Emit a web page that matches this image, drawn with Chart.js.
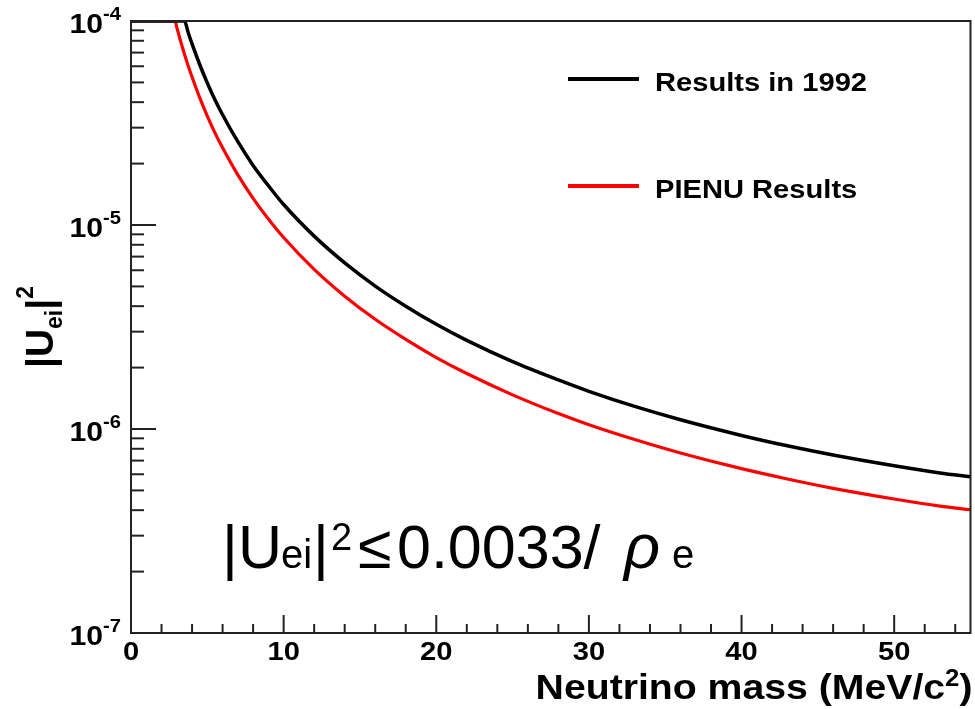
<!DOCTYPE html>
<html>
<head>
<meta charset="utf-8">
<script src="https://cdn.jsdelivr.net/npm/chart.js@4.4.1/dist/chart.umd.min.js"></script>
<style>
  html, body { margin: 0; padding: 0; background: #ffffff; }
  canvas { display: block; }
</style>
</head>
<body>
<canvas id="c" width="975" height="709"></canvas>
<script>
// ---- data ----
const masses = [0, 1, 2, 2.89, 3, 3.2, 3.5, 3.75, 4, 4.5, 5, 5.5, 6, 7, 8, 9, 10, 12, 14, 16, 18, 20, 22, 25, 28, 30, 33, 36, 40, 43, 46, 50, 53, 55];
const results1992 = [1e-4, 1e-4, 1e-4, 1e-4, 1e-4, 1e-4, 1e-4, 8.76e-5, 7.72e-5, 6.12e-5, 4.97e-5, 4.11e-5, 3.47e-5, 2.56e-5, 1.96e-5, 1.56e-5, 1.26e-5, 8.82e-6, 6.52e-6, 5.02e-6, 4.00e-6, 3.26e-6, 2.72e-6, 2.14e-6, 1.74e-6, 1.53e-6, 1.29e-6, 1.11e-6, 9.30e-7, 8.27e-7, 7.45e-7, 6.60e-7, 6.09e-7, 5.83e-7];
const pienuResults = [1e-4, 1e-4, 1e-4, 1e-4, 9.31e-5, 8.21e-5, 6.89e-5, 6.02e-5, 5.31e-5, 4.21e-5, 3.42e-5, 2.83e-5, 2.39e-5, 1.76e-5, 1.35e-5, 1.07e-5, 8.68e-6, 6.06e-6, 4.48e-6, 3.45e-6, 2.75e-6, 2.24e-6, 1.87e-6, 1.47e-6, 1.19e-6, 1.05e-6, 8.88e-7, 7.63e-7, 6.39e-7, 5.69e-7, 5.12e-7, 4.54e-7, 4.19e-7, 4.02e-7];
const seriesNames = ['Results in 1992', 'PIENU Results'];
const seriesColors = ['#000000', '#ff0000'];
const xTickLabels = [0, 10, 20, 30, 40, 50];
const yDecades = [1e-7, 1e-6, 1e-5, 1e-4];
const yDecadeExponents = ['-7', '-6', '-5', '-4'];
const xTitle = 'Neutrino mass (MeV/c';
const xTitleSup = '2';
const xTitleEnd = ')';

const FAM = '"Liberation Sans", Arial, Helvetica, sans-serif';
const SX = 1.12; // horizontal stretch of the reference's text

function txt(ctx, s, x, y, font, align, sx) {
  ctx.save();
  ctx.font = font;
  ctx.textAlign = align || 'left';
  ctx.translate(x, y);
  ctx.scale(sx || SX, 1);
  ctx.fillText(s, 0, 0);
  ctx.restore();
}
function tw(ctx, s, font, sx) {
  ctx.save(); ctx.font = font;
  const w = ctx.measureText(s).width * (sx || SX);
  ctx.restore();
  return w;
}

const decor = {
  id: 'decor',
  afterDatasetsDraw(chart) {
    const ctx = chart.ctx, a = chart.chartArea;
    const xs = chart.scales.x, ys = chart.scales.y;
    ctx.save();
    ctx.strokeStyle = '#222';
    ctx.lineWidth = 2;
    for (let v = 2; v < 55; v += 2) {
      const px = xs.getPixelForValue(v);
      const len = (v % 10 === 0) ? 18 : 9;
      ctx.beginPath(); ctx.moveTo(px, a.bottom); ctx.lineTo(px, a.bottom - len); ctx.stroke();
    }
    for (let i = 0; i < yDecades.length - 1; i++) {
      for (let k = 1; k <= 9; k++) {
        const py = ys.getPixelForValue(k * yDecades[i]);
        const len = k === 1 ? 25 : 13;
        ctx.beginPath(); ctx.moveTo(a.left, py); ctx.lineTo(a.left + len, py); ctx.stroke();
      }
    }
    ctx.strokeRect(a.left, a.top, a.right - a.left, a.bottom - a.top);
    ctx.restore();
  },
  afterDraw(chart) {
    const ctx = chart.ctx, a = chart.chartArea;
    const xs = chart.scales.x, ys = chart.scales.y;
    ctx.save();
    ctx.fillStyle = '#000';
    ctx.textBaseline = 'alphabetic';
    // x tick labels
    xTickLabels.forEach(v => {
      txt(ctx, String(v), xs.getPixelForValue(v), a.bottom + 27, 'bold 26px ' + FAM, 'center');
    });
    // y decade labels 10^n
    yDecades.forEach((d, i) => {
      const py = ys.getPixelForValue(d);
      const fs = 'bold 18px ' + FAM;
      txt(ctx, yDecadeExponents[i], 121, py - 1, fs, 'right');
      const w = tw(ctx, yDecadeExponents[i], fs);
      txt(ctx, '10', 121 - w, py + 12, 'bold 27px ' + FAM, 'right');
    });
    // y title |U_ei|^2 rotated
    ctx.save();
    ctx.translate(53, 368);
    ctx.rotate(-Math.PI / 2);
    ctx.textAlign = 'left';
    let x = 0;
    ctx.font = 'bold 39px ' + FAM;
    ctx.fillText('|', x, 0); x += ctx.measureText('|').width;
    ctx.fillText('U', x, 0); x += ctx.measureText('U').width;
    ctx.font = 'bold 23px ' + FAM;
    ctx.fillText('ei', x, 9); x += ctx.measureText('ei').width;
    ctx.font = 'bold 39px ' + FAM;
    ctx.fillText('|', x, 0); x += ctx.measureText('|').width;
    ctx.font = 'bold 23px ' + FAM;
    ctx.fillText('2', x, -20);
    ctx.restore();
    // x title, right aligned to the frame
    const fT = 'bold 35px ' + FAM, fS = 'bold 23px ' + FAM;
    const w1 = tw(ctx, xTitle, fT), w2 = tw(ctx, xTitleSup, fS), w3 = tw(ctx, xTitleEnd, fT);
    const sx0 = a.right + 2 - (w1 + w2 + w3);
    txt(ctx, xTitle, sx0, 699, fT, 'left');
    txt(ctx, xTitleSup, sx0 + w1, 686, fS, 'left');
    txt(ctx, xTitleEnd, sx0 + w1 + w2, 699, fT, 'left');
    // legend
    const legY = [79, 186];
    chart.data.datasets.forEach((ds, i) => {
      ctx.strokeStyle = ds.borderColor;
      ctx.lineWidth = 4;
      ctx.beginPath(); ctx.moveTo(568, legY[i]); ctx.lineTo(639, legY[i]); ctx.stroke();
      ctx.fillStyle = '#000';
      txt(ctx, ds.label, 655, legY[i] + 12, 'bold 26px ' + FAM, 'left');
    });
    // formula annotation
    const base = 568;
    const R = '"Liberation Sans", Arial, sans-serif';
    ctx.fillStyle = '#000';
    ctx.textAlign = 'left';
    ctx.font = '61px ' + R; ctx.fillText('|', 222, base);
    ctx.fillText('U', 238, base);
    ctx.font = '40px ' + R; ctx.fillText('ei', 281, base);
    ctx.font = '61px ' + R; ctx.fillText('|', 313, base);
    ctx.font = '38px ' + R; ctx.fillText('2', 331, 550);
    ctx.font = '61px ' + R; ctx.fillText('\u2264', 358, base);
    ctx.fillText('0.0033/', 397, base);
    ctx.font = 'italic 63px ' + R; ctx.fillText('\u03C1', 624, base);
    ctx.font = '40px ' + R; ctx.fillText('e', 672, base);
    ctx.restore();
  }
};

const toPts = (ys) => masses.map((m, i) => ({ x: m, y: ys[i] }));

new Chart(document.getElementById('c'), {
  type: 'line',
  data: {
    datasets: [
      { label: seriesNames[0], data: toPts(results1992), borderColor: seriesColors[0], borderWidth: 3.5, pointRadius: 0, cubicInterpolationMode: 'monotone', fill: false },
      { label: seriesNames[1], data: toPts(pienuResults), borderColor: seriesColors[1], borderWidth: 3.2, pointRadius: 0, cubicInterpolationMode: 'monotone', fill: false }
    ]
  },
  options: {
    responsive: false,
    animation: false,
    devicePixelRatio: 1,
    layout: { padding: { top: 21, right: 4.5, left: 0, bottom: 0 } },
    plugins: { legend: { display: false }, tooltip: { enabled: false } },
    scales: {
      x: {
        type: 'linear', min: 0, max: 55,
        grid: { display: false, drawTicks: false },
        border: { display: false },
        ticks: { display: false, stepSize: 10 },
        afterFit: (s) => { s.height = 76; }
      },
      y: {
        type: 'logarithmic', min: 1e-7, max: 1e-4,
        grid: { display: false, drawTicks: false },
        border: { display: false },
        ticks: { display: false },
        afterFit: (s) => { s.width = 131; }
      }
    }
  },
  plugins: [decor]
});
</script>
</body>
</html>
